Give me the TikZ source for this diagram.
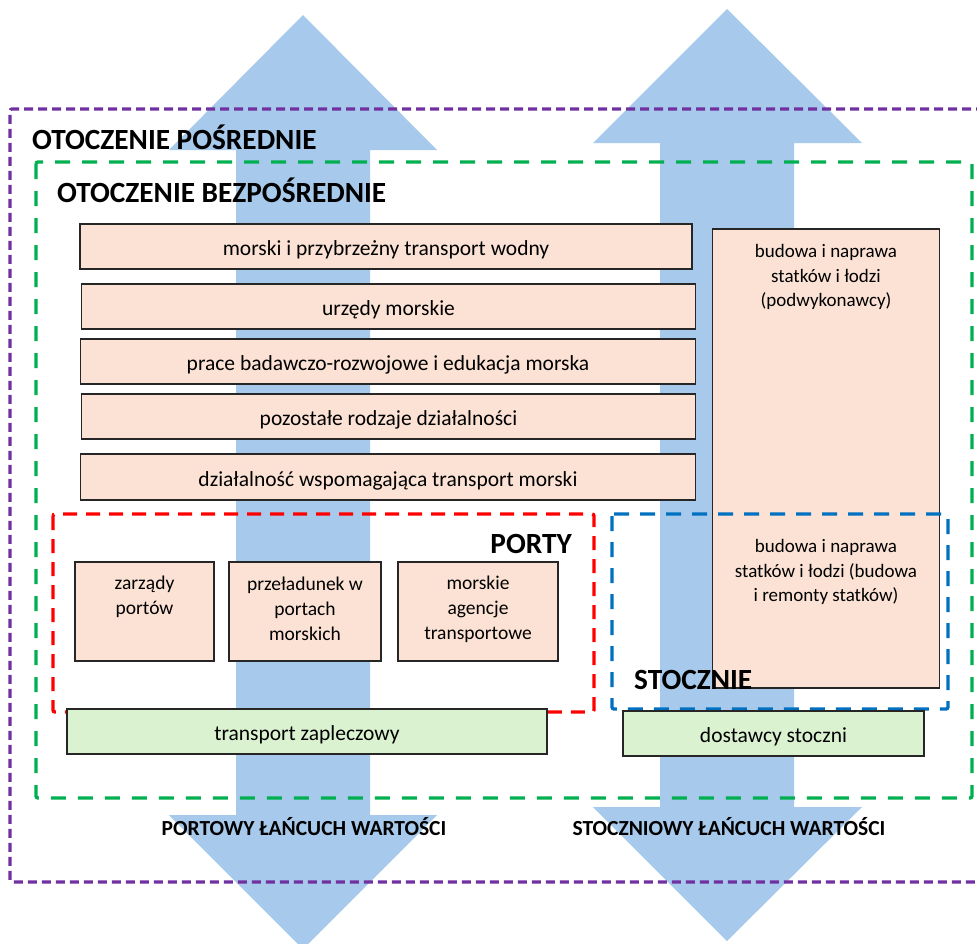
\documentclass[tikz,border=0pt]{standalone}
\usepackage{fontspec}
\setmainfont{Carlito}
\definecolor{arrowblue}{HTML}{A7C9EB}
\definecolor{salmon}{HTML}{FBE2D5}
\definecolor{lgreen}{HTML}{DAF2D0}
\definecolor{cpurple}{HTML}{7030A0}
\definecolor{cgreen}{HTML}{00B050}
\definecolor{cred}{HTML}{FF0000}
\definecolor{cblue}{HTML}{0070C0}
\begin{document}
\begin{tikzpicture}[x=1pt,y=-1pt,
  bigarrow/.style={fill=arrowblue,draw=none},
  frame/.style={line width=3.4pt,rounded corners=2pt},
  boxstyle/.style={draw=black!85,line width=1.3pt,rectangle,inner sep=0pt},
  salmonbox/.style={boxstyle,fill=salmon},
  greenbox/.style={boxstyle,fill=lgreen},
  linetext/.style={font=\fontsize{21.5}{24}\selectfont,inner sep=0pt,anchor=base},
  multitext/.style={font=\fontsize{19.5}{25}\selectfont,align=center,inner sep=0pt},
  talltext/.style={font=\fontsize{19}{24.5}\selectfont,align=center,inner sep=0pt},
  heading/.style={font=\fontsize{29.3}{31}\selectfont\bfseries,inner sep=0pt},
  chainlabel/.style={font=\fontsize{21.5}{24}\selectfont\bfseries,inner sep=0pt}
]
\useasboundingbox (0,0) rectangle (977,943);
\clip (0,0) rectangle (977,943);
\fill[white] (0,0) rectangle (977,943);

% double arrows
\path[bigarrow] (303,15) -- (437,150) -- (370,150) -- (370,815) -- (437,815)
  -- (303,949) -- (169,815) -- (236,815) -- (236,150) -- (169,150) -- cycle;
\path[bigarrow] (727,9) -- (862,143) -- (794,143) -- (794,807) -- (862,807)
  -- (727,941) -- (593,807) -- (660,807) -- (660,143) -- (593,143) -- cycle;

% frames
\draw[frame,cpurple,line width=3.2pt,dash pattern=on 9pt off 5pt]
  (985,109) -- (10,109) -- (10,882) -- (985,882);
\draw[frame,cgreen,dash pattern=on 15pt off 12pt] (36,162) rectangle (972,798);

% headings
\node[heading,anchor=base west] (hpos) at (32,149) {OTOCZENIE POŚREDNIE};
\node[heading,anchor=base west] (hbez) at (57,202) {OTOCZENIE BEZPOŚREDNIE};

% wide boxes
\node[salmonbox,minimum width=612pt,minimum height=45pt] (b1) at (386,246.5) {};
\node[linetext] (t1) at (386,255.5) {morski i przybrzeżny transport wodny};
\node[salmonbox,minimum width=614pt,minimum height=45pt] (b2) at (388.5,306.5) {};
\node[linetext] (t2) at (388.5,315.5) {urzędy morskie};
\node[salmonbox,minimum width=615pt,minimum height=45pt] (b3) at (388,361.5) {};
\node[linetext] (t3) at (388,370.5) {prace badawczo-rozwojowe i edukacja morska};
\node[salmonbox,minimum width=614pt,minimum height=45pt] (b4) at (388.5,416.5) {};
\node[linetext] (t4) at (388.5,425.5) {pozostałe rodzaje działalności};
\node[salmonbox,minimum width=615pt,minimum height=46pt] (b5) at (388,477) {};
\node[linetext] (t5) at (388,486) {działalność wspomagająca transport morski};

% tall shipbuilding box
\node[salmonbox,minimum width=227pt,minimum height=459pt] (tall) at (826,458.5) {};
\node[talltext] (tallA) at (826,277) {budowa i naprawa\\statków i łodzi\\(podwykonawcy)};
\node[talltext] (tallB) at (826,572) {budowa i naprawa\\statków i łodzi (budowa\\i remonty statków)};

% ports frame
\draw[frame,cred,dash pattern=on 14pt off 9pt] (53,514) rectangle (594,712);
\node[heading,anchor=base east] (hporty) at (572,553) {PORTY};
\node[salmonbox,minimum width=139pt,minimum height=99pt] (pa) at (144.5,611.5) {};
\node[multitext] (ta) at (144.5,597) {zarządy\\portów};
\node[salmonbox,minimum width=152pt,minimum height=99pt] (pb) at (305,611.5) {};
\node[multitext] (tb) at (305,609) {przeładunek w\\portach\\morskich};
\node[salmonbox,minimum width=160pt,minimum height=99pt] (pc) at (478,611.5) {};
\node[multitext] (tc) at (478,609) {morskie\\agencje\\transportowe};

% shipyards frame
\draw[frame,cblue,dash pattern=on 15pt off 11pt] (612,514) rectangle (948,709);
\node[heading,anchor=base west] (hstocz) at (634,689) {STOCZNIE};

% green boxes
\node[greenbox,minimum width=480pt,minimum height=45pt] (tz) at (307,731.5) {};
\node[linetext] (ttz) at (307,740.5) {transport zapleczowy};
\node[greenbox,minimum width=301pt,minimum height=45pt] (ds) at (773.5,733.5) {};
\node[linetext] (tds) at (773.5,742.5) {dostawcy stoczni};

% chain labels
\node[chainlabel,anchor=base] (lport) at (304,835) {PORTOWY ŁAŃCUCH WARTOŚCI};
\node[chainlabel,anchor=base] (lstocz) at (729,835) {STOCZNIOWY ŁAŃCUCH WARTOŚCI};
\end{tikzpicture}
\end{document}
